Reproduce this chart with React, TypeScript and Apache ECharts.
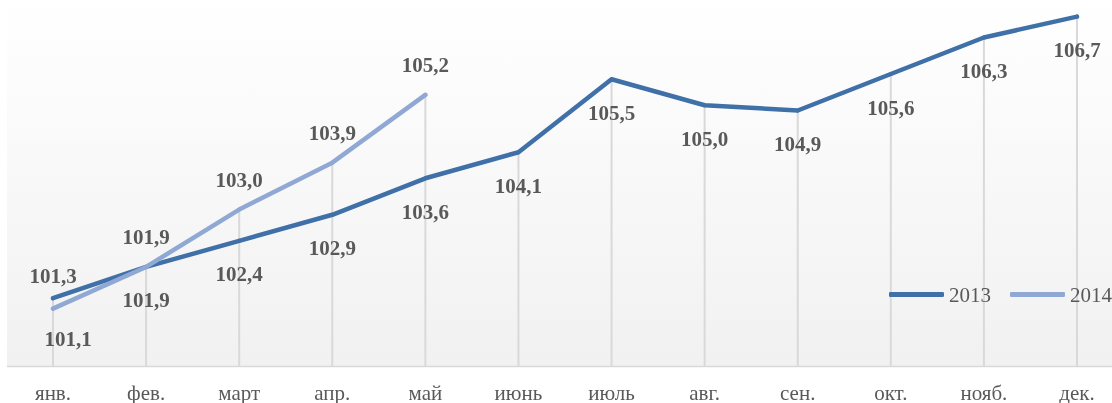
import React, { useEffect, useRef } from "react";
import * as echarts from "echarts";

const months = ["янв.", "фев.", "март", "апр.", "май", "июнь", "июль", "авг.", "сен.", "окт.", "нояб.", "дек."];
const values2013 = [101.3, 101.9, 102.4, 102.9, 103.6, 104.1, 105.5, 105.0, 104.9, 105.6, 106.3, 106.7];
const values2014 = [101.1, 101.9, 103.0, 103.9, 105.2];
const seriesNames = ["2013", "2014"];

const FONT = "'Liberation Serif', 'Times New Roman', serif";
const TEXT = "#595959";
const C2013 = "#4070a8";
const C2014 = "#90a8d4";

const fmt = (v: number) => v.toFixed(1).replace(".", ",");

export default function App() {
  const ref = useRef<HTMLDivElement>(null);
  useEffect(() => {
    if (!ref.current) return;
    const chart = echarts.init(ref.current, null, { renderer: "svg" });
    const dropValues = months.map((_, i) =>
      Math.max(values2013[i], values2014[i] !== undefined ? values2014[i] : -Infinity)
    );
    const labelBase = {
      show: true,
      fontFamily: FONT,
      fontSize: 21,
      fontWeight: "bold" as const,
      color: TEXT,
      formatter: (p: any) => fmt(p.value),
    };
    const data2013 = values2013.map((v, i) =>
      i === 0
        ? { value: v, label: { position: "top", distance: 10 } }
        : { value: v, label: { position: "bottom", distance: 21 } }
    );
    const data2014 = values2014.map((v, i) =>
      i === 0
        ? { value: v, label: { position: "bottom", distance: 18, offset: [15, 0] } }
        : { value: v, label: { position: "top", distance: 17 } }
    );
    chart.setOption({
      animation: false,
      textStyle: { fontFamily: FONT },
      graphic: [
        {
          type: "rect",
          z: -10,
          silent: true,
          shape: { x: 7, y: 0, width: 1105, height: 366 },
          style: {
            fill: new echarts.graphic.LinearGradient(0, 0, 0, 1, [
              { offset: 0, color: "#ffffff" },
              { offset: 1, color: "#f1f1f1" },
            ]),
          },
        },
        {
          type: "line",
          z: -9,
          silent: true,
          shape: { x1: 7, y1: 366.5, x2: 1112, y2: 366.5 },
          style: { stroke: "#d9d9d9", lineWidth: 1.5 },
        },
      ],
      grid: { left: 53, right: 35, top: 1, bottom: 36, containLabel: false },
      legend: {
        data: seriesNames,
        orient: "horizontal",
        left: 889,
        top: 284,
        width: 300,
        padding: 0,
        icon: "roundRect",
        itemWidth: 55,
        itemHeight: 5,
        itemGap: 19,
        textStyle: { fontFamily: FONT, fontSize: 21, color: TEXT },
      },
      xAxis: {
        type: "category",
        data: months,
        boundaryGap: false,
        axisLine: { show: false },
        axisTick: { show: false },
        splitLine: { show: false },
        axisLabel: { fontFamily: FONT, fontSize: 21, color: TEXT, margin: 16, interval: 0 },
      },
      yAxis: {
        type: "value",
        min: 100,
        max: 107,
        show: false,
        splitLine: { show: false },
      },
      series: [
        {
          name: "drop",
          type: "bar",
          data: dropValues,
          barWidth: 2,
          itemStyle: { color: "#d9d9d9" },
          silent: true,
          z: 1,
          label: { show: false },
        },
        {
          name: seriesNames[0],
          type: "line",
          data: data2013,
          z: 3,
          symbol: "circle",
          symbolSize: 4,
          itemStyle: { color: C2013 },
          lineStyle: { color: C2013, width: 4.5, cap: "round", join: "round" },
          label: labelBase,
        },
        {
          name: seriesNames[1],
          type: "line",
          data: data2014,
          z: 4,
          symbol: "circle",
          symbolSize: 4,
          itemStyle: { color: C2014 },
          lineStyle: { color: C2014, width: 4.5, cap: "round", join: "round" },
          label: labelBase,
        },
      ],
    });
    return () => chart.dispose();
  }, []);
  return (
    <div
      ref={ref}
      style={{ position: "fixed", left: 0, top: 0, width: 1112, height: 403 }}
    />
  );
}
